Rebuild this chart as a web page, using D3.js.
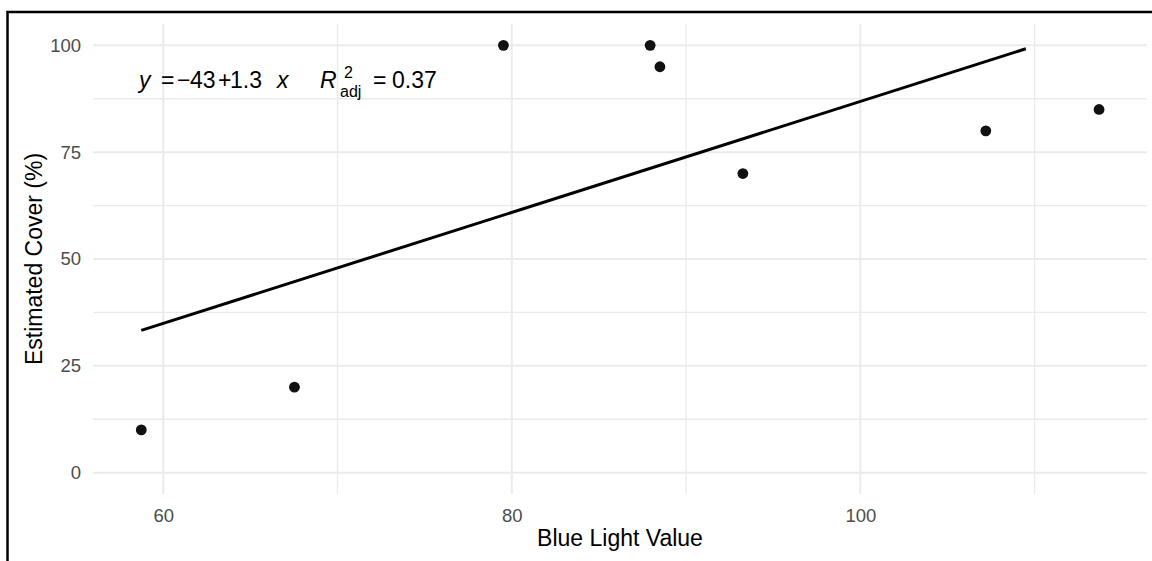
<!DOCTYPE html>
<html>
<head>
<meta charset="utf-8">
<script src="https://cdn.jsdelivr.net/npm/d3@7"></script>
<style>
  html, body { margin: 0; padding: 0; background: #fff; }
  svg { display: block; font-family: "Liberation Sans", Arial, sans-serif; }
</style>
</head>
<body>
<div id="chart"></div>
<script>
// data
var blueLight = [58.74, 67.53, 79.52, 87.94, 88.50, 93.26, 107.20, 113.70];
var cover = [10, 20, 100, 100, 95, 70, 80, 85];

// fitted line end points (lm line, y = -43 + 1.3 x)
var fitX = [58.74, 109.5];
var fitY = [33.3, 99.2];

var xTicks = [60, 80, 100];
var xMinor = [70, 90, 110];
var yTicks = [0, 25, 50, 75, 100];
var yMinor = [12.5, 37.5, 62.5, 87.5];

var xTitle = 'Blue Light Value';
var yTitle = 'Estimated Cover (%)';

var width = 1152;
var height = 561;
var panel = { left: 93, right: 1147, top: 24, bottom: 494 };

var svg = d3.select('#chart')
    .append('svg')
    .attr('width', width)
    .attr('height', height);

var x = d3.scaleLinear()
    .domain([55.97, 116.45])
    .range([panel.left, panel.right]);

var y = d3.scaleLinear()
    .domain([-5, 105])
    .range([panel.bottom, panel.top]);

// grid, minor first then major
var grid = svg.append('g').attr('class', 'grid');

grid.selectAll('.ymin').data(yMinor).enter()
    .append('line')
    .attr('x1', panel.left).attr('x2', panel.right)
    .attr('y1', function (d) { return y(d); })
    .attr('y2', function (d) { return y(d); })
    .attr('stroke', '#ebebeb').attr('stroke-width', 1.3);

grid.selectAll('.xmin').data(xMinor).enter()
    .append('line')
    .attr('y1', panel.top).attr('y2', panel.bottom)
    .attr('x1', function (d) { return x(d); })
    .attr('x2', function (d) { return x(d); })
    .attr('stroke', '#ebebeb').attr('stroke-width', 1.3);

grid.selectAll('.ymaj').data(yTicks).enter()
    .append('line')
    .attr('x1', panel.left).attr('x2', panel.right)
    .attr('y1', function (d) { return y(d); })
    .attr('y2', function (d) { return y(d); })
    .attr('stroke', '#ebebeb').attr('stroke-width', 2);

grid.selectAll('.xmaj').data(xTicks).enter()
    .append('line')
    .attr('y1', panel.top).attr('y2', panel.bottom)
    .attr('x1', function (d) { return x(d); })
    .attr('x2', function (d) { return x(d); })
    .attr('stroke', '#ebebeb').attr('stroke-width', 2);

// axes, tick labels only (theme_minimal)
var xAxis = svg.append('g')
    .attr('transform', 'translate(0,' + panel.bottom + ')')
    .call(d3.axisBottom(x).tickValues(xTicks).tickSize(0).tickPadding(22));
var yAxis = svg.append('g')
    .attr('transform', 'translate(81,0)')
    .call(d3.axisLeft(y).tickValues(yTicks).tickSize(0).tickPadding(0));

[xAxis, yAxis].forEach(function (ax) {
    ax.select('.domain').remove();
    ax.selectAll('text')
        .attr('fill', '#4d4d4d')
        .style('font-size', '18.5px')
        .style('font-family', '"Liberation Sans", Arial, sans-serif');
});
xAxis.selectAll('text').attr('dy', null).attr('y', 28);

// fitted line
svg.append('path')
    .datum(d3.zip(fitX, fitY))
    .attr('fill', 'none')
    .attr('stroke', '#000')
    .attr('stroke-width', 3)
    .attr('d', d3.line()
        .x(function (d) { return x(d[0]); })
        .y(function (d) { return y(d[1]); }));

// points
svg.selectAll('.pt').data(d3.zip(blueLight, cover)).enter()
    .append('circle')
    .attr('cx', function (d) { return x(d[0]); })
    .attr('cy', function (d) { return y(d[1]); })
    .attr('r', 5.4)
    .attr('fill', '#111');

// axis titles
svg.append('text')
    .attr('x', (panel.left + panel.right) / 2)
    .attr('y', 546)
    .attr('text-anchor', 'middle')
    .style('font-size', '23px')
    .text(xTitle);

svg.append('text')
    .attr('transform', 'translate(41.5,' + (panel.top + panel.bottom) / 2 + ') rotate(-90)')
    .attr('text-anchor', 'middle')
    .style('font-size', '23px')
    .text(yTitle);

// equation label, pieces laid out like plotmath
var eqX = 139;
var eqY = 88;
var eqPieces = [
    { t: 'y', dx: 0, italic: true },
    { t: '=', dx: 22 },
    { t: '\u2212', dx: 38 },
    { t: '43', dx: 51 },
    { t: '+', dx: 79 },
    { t: '1.3', dx: 91 },
    { t: 'x', dx: 138, italic: true },
    { t: 'R', dx: 181, italic: true },
    { t: '2', dx: 205, size: 16, dy: -10 },
    { t: 'adj', dx: 201, size: 16, dy: 9 },
    { t: '=', dx: 234 },
    { t: '0.37', dx: 253 }
];

var eq = svg.append('g').attr('class', 'eq');
eqPieces.forEach(function (p) {
    eq.append('text')
        .attr('x', eqX + p.dx)
        .attr('y', eqY + (p.dy || 0))
        .style('font-size', (p.size || 23) + 'px')
        .style('font-style', p.italic ? 'italic' : 'normal')
        .attr('fill', '#000')
        .text(p.t);
});

// frame around the screenshot (left and top edges)
svg.append('path')
    .attr('d', 'M7.5,561 V12 H1152')
    .attr('fill', 'none')
    .attr('stroke', '#000')
    .attr('stroke-width', 2.5);
</script>
</body>
</html>
